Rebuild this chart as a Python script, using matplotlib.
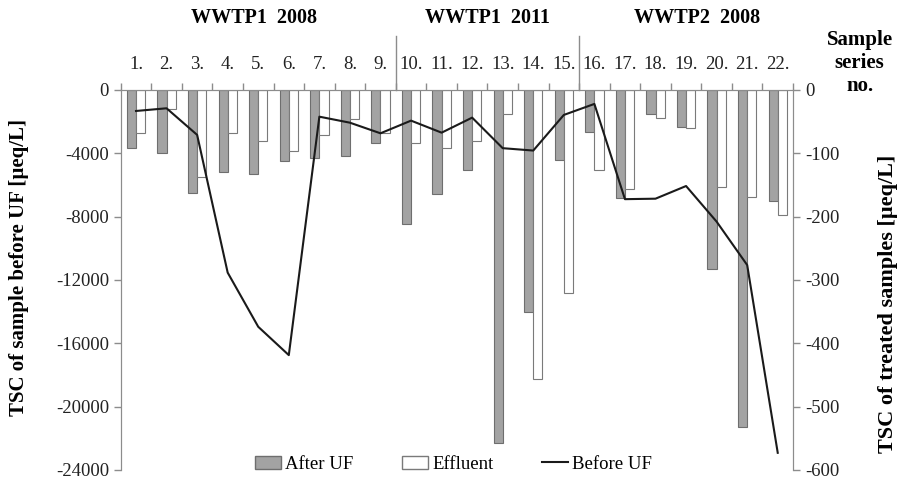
import numpy as np
import matplotlib.pyplot as plt
from matplotlib.patches import Patch
from matplotlib.lines import Line2D
from matplotlib.transforms import blended_transform_factory

plt.rcParams["font.family"] = ["Liberation Serif", "DejaVu Serif"]
plt.rcParams["axes.unicode_minus"] = False

# ── Data ─────────────────────────────────────────────────────────────────────
series = [f"{i}." for i in range(1, 23)]
# treated samples, right axis [µeq/L]
after_uf = [-92, -99, -162, -129, -133, -113, -108, -104, -84,
            -212, -165, -127, -558, -351, -111,
            -67, -171, -38, -58, -283, -533, -176]
effluent = [-68, -30, -138, -68, -80, -96, -71, -46, -68,
            -84, -92, -81, -38, -457, -321,
            -126, -157, -45, -60, -153, -169, -197]
# sample before UF, left axis [µeq/L]
before_uf = [-1330, -1160, -2840, -11540, -14960, -16750, -1690, -2070, -2740,
             -1940, -2700, -1750, -3680, -3830, -1580,
             -885, -6900, -6870, -6070, -8320, -11060, -22920]
groups = ["WWTP1  2008", "WWTP1  2011", "WWTP2  2008"]
group_pos = [3.86, 11.49, 18.36]
separators = [8.5, 14.5]

AXC = "#8c8c8c"
GRAY = "#a3a3a3"

fig = plt.figure(figsize=(9.03, 4.90), dpi=100)
ax = fig.add_axes([0.1337, 0.041, 0.7445, 0.7755])
ax2 = ax.twinx()

x = np.arange(len(series))
w = 0.3
ax2.bar(x - w / 2, after_uf, w, color=GRAY, edgecolor="#6e6e6e", linewidth=0.8)
ax2.bar(x + w / 2, effluent, w, color="white", edgecolor="#7a7a7a", linewidth=0.8)
ax.plot(x, before_uf, color="#1a1a1a", linewidth=1.5)

# line on top of bars
ax.set_zorder(ax2.get_zorder() + 1)
ax.patch.set_visible(False)

ax.set_xlim(-0.5, len(series) - 0.5)
ax.set_ylim(-24000, 0)
ax2.set_ylim(-600, 0)
ax.set_yticks(np.arange(-24000, 1, 4000))
ax2.set_yticks(np.arange(-600, 1, 100))

for a in (ax, ax2):
    a.spines["bottom"].set_visible(False)
    for s in ("top", "left", "right"):
        a.spines[s].set_color(AXC)
    a.tick_params(axis="y", colors=AXC, labelcolor="#222222", labelsize=13.5,
                  length=5, width=1)

# top axis: ticks at category boundaries, labels at centres
ax.xaxis.tick_top()
ax.set_xticks(np.arange(-0.5, len(series), 1.0))
ax.set_xticklabels([])
ax.set_xticks(x, minor=True)
ax.set_xticklabels(series, minor=True)
ax.tick_params(axis="x", which="major", top=True, bottom=False, length=5,
               width=1, color=AXC)
ax.tick_params(axis="x", which="minor", top=True, bottom=False, length=0,
               pad=12, labelsize=13.5, labelcolor="#222222")
ax2.tick_params(axis="x", which="both", top=False, bottom=False)

fig.text(19 / 903, 1 - 268 / 490, "TSC of sample before UF [µeq/L]",
         rotation=90, ha="center", va="center", fontsize=15, fontweight="bold")
fig.text(888 / 903, 1 - 304 / 490, "TSC of treated samples [µeq/L]",
         rotation=90, ha="center", va="center", fontsize=16, fontweight="bold")

trans = blended_transform_factory(ax.transData, ax.transAxes)
for sx in separators:
    ax.plot([sx, sx], [1.0, 1.142], color=AXC, linewidth=1,
            transform=trans, clip_on=False)
for name, gx in zip(groups, group_pos):
    ax.text(gx, 1.19, name, transform=trans, ha="center", va="center",
            fontsize=14.5, fontweight="bold")

fig.text(0.952, 0.871, "Sample\nseries\nno.", ha="center", va="center",
         fontsize=15, fontweight="bold", linespacing=1.2)

handles = [Patch(facecolor=GRAY, edgecolor="#6e6e6e", label="After UF"),
           Patch(facecolor="white", edgecolor="#7a7a7a", label="Effluent"),
           Line2D([], [], color="#1a1a1a", linewidth=1.5, label="Before UF")]
ax.legend(handles=handles, loc="center", bbox_to_anchor=(0.495, 0.015),
          ncol=3, frameon=False, fontsize=13.5, handlelength=1.4,
          handletextpad=0.2, columnspacing=2.6, borderaxespad=0)

fig.savefig("out.png", dpi=100)
